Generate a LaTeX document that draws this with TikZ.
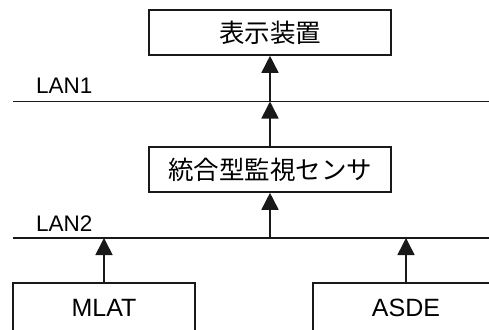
\documentclass[tikz,border=0pt]{standalone}
\usepackage{fontspec}
\setmainfont{Liberation Sans}
\newfontfamily\jp{Noto Sans CJK JP}
\usetikzlibrary{arrows.meta}
\begin{document}
\begin{tikzpicture}[x=1pt,y=-1pt,
  box/.style={draw=black!90,line width=1.6pt,minimum width=242pt,minimum height=45pt,inner sep=0pt,font=\jp\fontsize{25.5}{30}\selectfont},
  lowbox/.style={draw=black!90,line width=1.6pt,minimum height=50pt,inner sep=0pt,font=\fontsize{25}{28}\selectfont},
  lan/.style={line width=1.6pt,draw=black!90},
  lanlabel/.style={font=\fontsize{22.5}{25}\selectfont,anchor=base west,inner sep=0pt},
  arr/.style={line width=1.6pt,draw=black!90,-{Triangle[length=17pt,width=17pt]}}]
\useasboundingbox (0,0) rectangle (489,329);
\clip (0,0) rectangle (489,329);
\node[box] (disp) at (270,32.5) {\raisebox{-1.5pt}{表示装置}};
\node[box] (sens) at (270,169.5) {\raisebox{-1.5pt}{統合型監視センサ}};
\coordinate (l1a) at (13,101.5);
\coordinate (l1b) at (489,101.5);
\coordinate (l2a) at (13,238);
\coordinate (l2b) at (489,238);
\draw[lan] (l1a) -- (l1b);
\draw[lan] (l2a) -- (l2b);
\node[lanlabel] (lan1) at (36,93.5) {LAN1};
\node[lanlabel] (lan2) at (36,231) {LAN2};
\node[lowbox,minimum width=182pt] (mlat) at (104,308) {MLAT};
\node[lowbox,minimum width=186pt] (asde) at (406,308) {ASDE};
\coordinate (p1) at (270,101.5);
\coordinate (p2) at (270,238);
\coordinate (p3) at (104,238);
\coordinate (p4) at (406,238);
\draw[arr] (p1) -- (disp.south);
\draw[arr] (sens.north) -- (p1);
\draw[arr] (p2) -- (sens.south);
\draw[arr] (mlat.north) -- (p3);
\draw[arr] (asde.north) -- (p4);
\end{tikzpicture}
\end{document}
